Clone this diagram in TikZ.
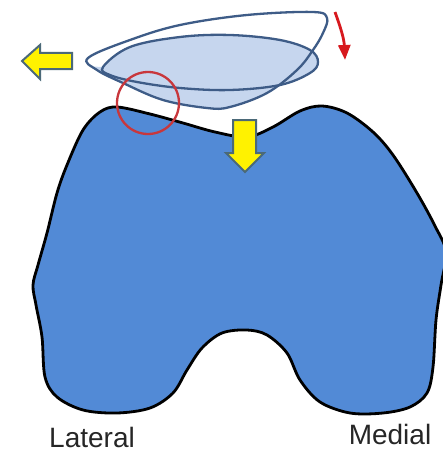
\documentclass[tikz,border=0pt]{standalone}
\usepackage{fontspec}
\setmainfont{Liberation Sans}
\usetikzlibrary{arrows.meta}

\definecolor{bonefill}{RGB}{82,138,214}
\definecolor{capfill}{RGB}{198,214,238}
\definecolor{capline}{RGB}{62,92,135}
\definecolor{ringred}{RGB}{200,55,60}
\definecolor{arrowred}{RGB}{215,25,30}
\definecolor{shiftline}{RGB}{75,105,120}

\tikzset{
  femur/.style={fill=bonefill, draw=black, line width=2.8pt, line join=round},
  patella/.style={draw=capline, line width=2.3pt},
  shiftarrow/.style={fill=yellow, draw=shiftline, line width=2pt, line join=miter},
  sidelabel/.style={anchor=base, inner sep=0pt, font=\fontsize{28}{28}\selectfont, text=black!85}
}

\begin{document}
\begin{tikzpicture}[x=1pt, y=-1pt]
\useasboundingbox (0,0) rectangle (443,452);
\clip (0,0) rectangle (443,452);

% femur end, seen from below
\draw[femur] plot[smooth cycle, tension=0.55] coordinates {
  (67,165) (83,130) (100,112) (117,107) (150,114) (183,123) (215,132)
  (247,137) (273,127) (300,111) (322,106) (347,113) (373,132) (393,155)
  (417,193) (435,226) (446,252) (441,285) (436,320) (433,367) (427,393)
  (410,407) (383,413) (350,413) (320,402) (300,380) (287,353) (267,335)
  (247,330) (222,333) (202,348) (187,370) (173,393) (150,408) (117,413)
  (83,410) (57,397) (45,377) (42,337) (36,305) (33,285) (38,265)
  (47,233) (57,193)};

% kneecap: tilted outline, lower part shaded
\begin{scope}
  \clip (80,66) -- plot[smooth, tension=0.6] coordinates {
    (103,67) (130,47) (180,37) (230,35) (280,40) (310,50) (318,62)}
    -- (335,62) -- (335,125) -- (80,125) -- cycle;
  \fill[capfill] plot[smooth cycle, tension=0.6] coordinates {
    (88,58) (130,40) (180,25) (247,15) (313,12) (327,18) (323,33)
    (313,50) (297,70) (267,93) (230,107) (207,108) (163,100) (123,83) (97,70)};
\end{scope}
\fill[capfill] plot[smooth cycle, tension=0.6] coordinates {
  (103,67) (130,47) (180,37) (230,35) (280,40) (310,50) (318,62)
  (310,73) (280,85) (230,90) (180,88) (137,82) (110,75)};
\draw[patella] plot[smooth cycle, tension=0.6] coordinates {
  (88,58) (130,40) (180,25) (247,15) (313,12) (327,18) (323,33)
  (313,50) (297,70) (267,93) (230,107) (207,108) (163,100) (123,83) (97,70)};
\draw[patella] plot[smooth cycle, tension=0.6] coordinates {
  (103,67) (130,47) (180,37) (230,35) (280,40) (310,50) (318,62)
  (310,73) (280,85) (230,90) (180,88) (137,82) (110,75)};

% contact zone
\draw[ringred, line width=2.3pt] (148,103) circle (31);

% tilt of the kneecap
\draw[arrowred, line width=2.8pt, -{Triangle[length=15pt, width=12pt]}]
  (335,12) .. controls (340,26) and (344,38) .. (345,60);

% shift arrows
\draw[shiftarrow] (22,61) -- (40,45) -- (40,53) -- (72,53) -- (72,69)
  -- (40,69) -- (40,79) -- cycle;
\draw[shiftarrow] (233,120) -- (256,120) -- (256,153) -- (264,153)
  -- (245,172) -- (226,153) -- (233,153) -- cycle;

\node[sidelabel] (lateral) at (92,447) {Lateral};
\node[sidelabel] (medial) at (390,444) {Medial};
\end{tikzpicture}
\end{document}
